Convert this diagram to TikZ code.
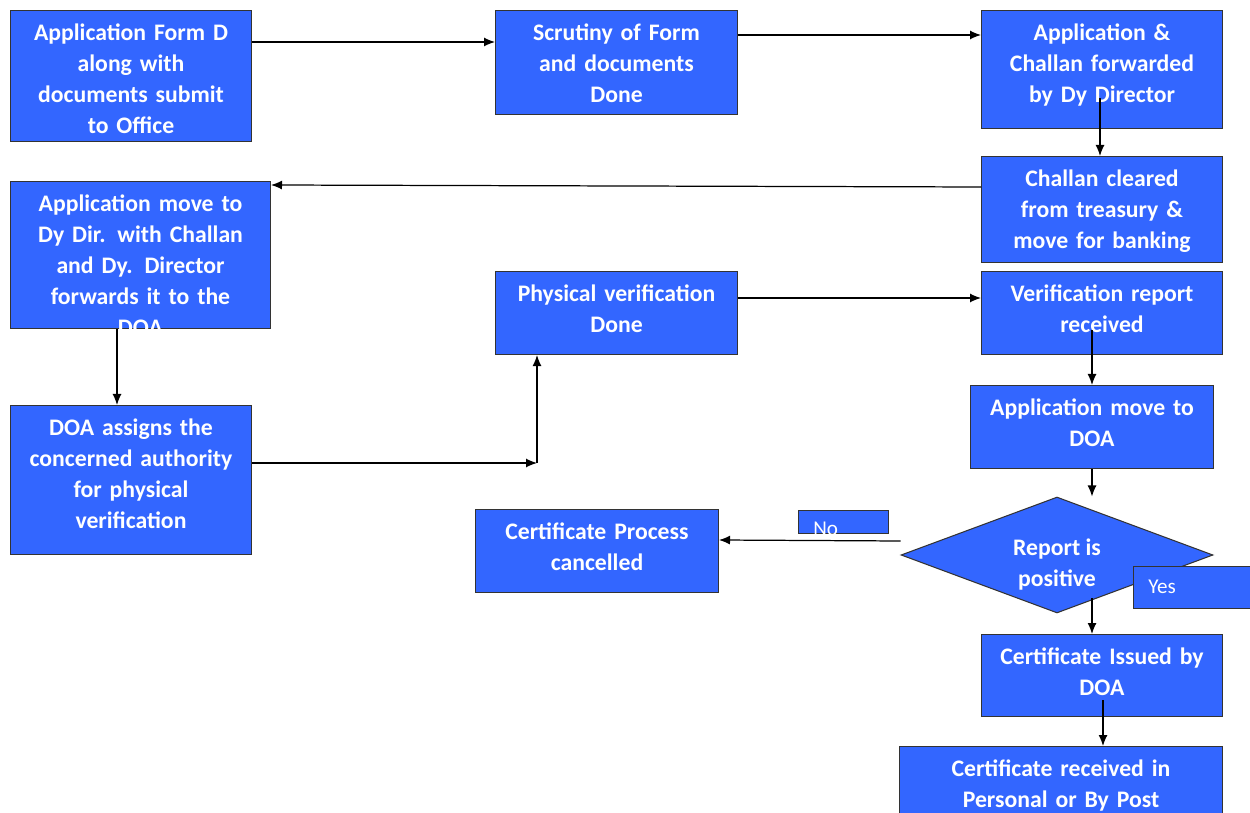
\documentclass[tikz,border=0pt]{standalone}
\usepackage{fontspec}
\setmainfont{Carlito}
\usetikzlibrary{shapes.geometric,arrows.meta}
\definecolor{flowblue}{RGB}{51,102,255}
\begin{document}
\begin{tikzpicture}[x=0.02cm,y=-0.02cm,
  stage/.style={draw=black!80,line width=0.6pt,fill=flowblue,text=white,
    font=\bfseries\fontsize{13.5}{17.6}\selectfont,align=center,anchor=north west,
    inner xsep=0pt,inner ysep=0pt,text height=0.6cm},
  decision/.style={diamond,draw=black!80,line width=0.6pt,fill=flowblue,inner sep=0pt,
    aspect=2.7,minimum width=6.24cm,minimum height=2.32cm},
  decisiontext/.style={text=white,font=\bfseries\fontsize{13.5}{17.6}\selectfont,
    align=center,inner sep=0pt},
  tag/.style={draw=black!80,line width=0.6pt,fill=flowblue,anchor=north west,inner sep=0pt},
  tagtext/.style={text=white,font=\fontsize{12}{14}\selectfont,anchor=west,inner sep=0pt},
  flow/.style={-{Latex[length=2.2mm,width=1.8mm]},line width=0.7pt}]
  \useasboundingbox (0,0) rectangle (1250,813);
  \node[stage,text width=4.82cm,text depth=2.02cm] (appform) at (10,10)
    {Application Form D\\along with\\documents submit\\to Office};
  \node[stage,text width=4.84cm,text depth=1.48cm] (scrutiny) at (495,10)
    {Scrutiny of Form\\and documents\\Done};
  \node[stage,text width=4.82cm,text depth=1.76cm] (forward) at (981,10)
    {Application \&\\Challan forwarded\\by Dy Director};
  \node[stage,text width=4.82cm,text depth=1.52cm] (cleared) at (981,156)
    {Challan cleared\\from treasury \&\\move for banking};
  \node[stage,text width=5.2cm,text depth=2.34cm] (movedy) at (10,181)
    {Application move to\\Dy Dir. with Challan\\and Dy. Director\\forwards it to the\\DOA};
  \node[stage,text width=4.82cm,text depth=2.38cm] (assign) at (10,405)
    {DOA assigns the\\concerned authority\\for physical\\verification};
  \node[stage,text width=4.84cm,text depth=1.06cm] (physical) at (495,271)
    {Physical verification\\Done};
  \node[stage,text width=4.82cm,text depth=1.06cm] (report) at (981,271)
    {Verification report\\received};
  \node[stage,text width=4.86cm,text depth=1.06cm] (movedoa) at (970,385)
    {Application move to\\DOA};
  \node[decision] (positive) at (1057,555) {};
  \node[decisiontext] (positivetext) at (1057,565) {Report is\\positive};
  \node[stage,text width=4.86cm,text depth=1.06cm] (cancel) at (475,509)
    {Certificate Process\\cancelled};
  \node[stage,text width=4.82cm,text depth=1.04cm] (issued) at (981,634)
    {Certificate Issued by\\DOA};
  \node[stage,text width=6.46cm,text depth=1.2cm] (received) at (899,746)
    {Certificate received in\\Personal or By Post};
  \node[tag,minimum width=1.8cm,minimum height=0.46cm] (nobox) at (798,510) {};
  \node[tagtext] (notext) at (813,529) {No};
  \node[tag,minimum width=2.4cm,minimum height=0.84cm] (yesbox) at (1133,566) {};
  \node[tagtext] (yestext) at (1148,587) {Yes};
  \coordinate (bend) at (537,463);
  \draw[flow] (appform.east |- 0,42) -- (scrutiny.west |- 0,42);
  \draw[flow] (scrutiny.east |- 0,35) -- (forward.west |- 0,35);
  \draw[flow] (1100,98) -- (cleared.north -| 1100,0);
  \draw[flow] (cleared.west |- 0,187) -- (movedy.east |- 0,185);
  \draw[flow] (movedy.south -| 117,0) -- (assign.north -| 117,0);
  \draw[flow] (assign.east |- bend) -- (bend);
  \draw[flow] (bend) -- (physical.south -| bend);
  \draw[flow] (physical.east |- 0,298) -- (report.west |- 0,298);
  \draw[flow] (1092,330) -- (movedoa.north -| 1092,0);
  \draw[flow] (movedoa.south -| 1092,0) -- (positive.north -| 1092,0);
  \draw[flow] (positive.west |- 0,541) -- (cancel.east |- 0,540);
  \draw[flow] (1092,598) -- (issued.north -| 1092,0);
  \draw[flow] (1103,700) -- (received.north -| 1103,0);
\end{tikzpicture}
\end{document}
